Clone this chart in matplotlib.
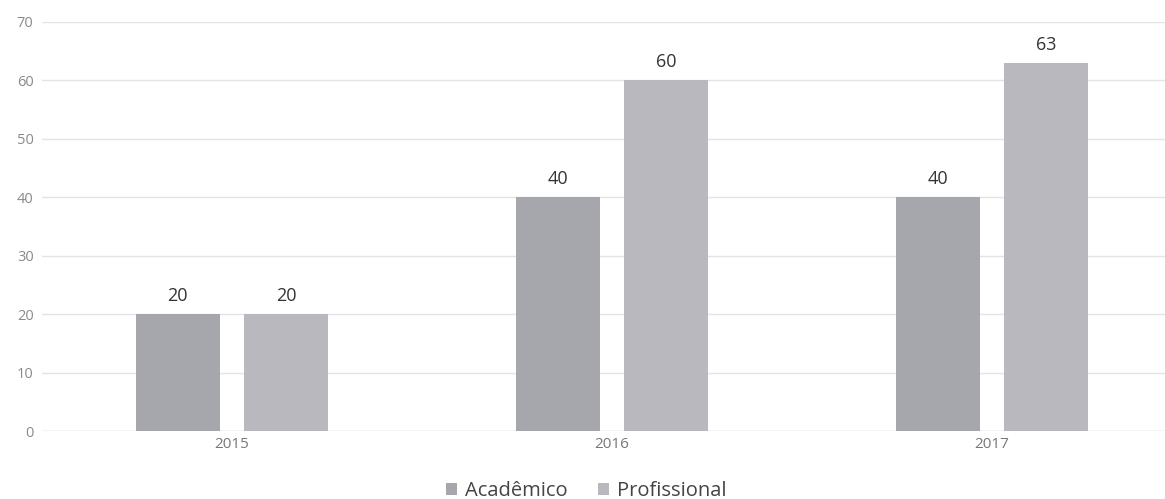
import matplotlib
matplotlib.use("Agg")
import matplotlib.pyplot as plt
import numpy as np

plt.rcParams['font.family'] = ['Open Sans', 'DejaVu Sans']

categories = ["2015", "2016", "2017"]
academico = [20, 40, 40]
profissional = [20, 60, 63]
series_names = ["Acadêmico", "Profissional"]
yticks = [0, 10, 20, 30, 40, 50, 60, 70]

fig = plt.figure(figsize=(11.65, 4.99), dpi=100)
ax = fig.add_axes([0.036, 0.136, 0.964, 0.820])

x = np.arange(len(categories))
w = 0.221
off = 0.143
c1 = "#a6a6ad"
c2 = "#b8b8be"
b1 = ax.bar(x - off, academico, w, color=c1, label=series_names[0], zorder=3)
b2 = ax.bar(x + off, profissional, w, color=c2, label=series_names[1], zorder=3)

for bars, vals in ((b1, academico), (b2, profissional)):
    for b, v in zip(bars, vals):
        ax.text(b.get_x() + b.get_width() / 2, v + 1.6, str(v), ha='center', va='bottom',
                fontsize=13, color="#333333")

ax.set_xlim(-0.5, 2.455)
ax.set_ylim(0, 70)
ax.set_yticks(yticks)
ax.set_yticklabels([str(t) for t in yticks], fontsize=10.5, color="#8a8a8a")
ax.set_xticks(x)
ax.set_xticklabels(categories, fontsize=11, color="#777777")
ax.tick_params(axis='both', length=0, pad=6)
ax.tick_params(axis='x', pad=4)
ax.grid(axis='y', color="#e4e4e4", linewidth=1, zorder=0)
for s in ax.spines.values():
    s.set_visible(False)
ax.axhline(0, color="#dddddd", linewidth=1, zorder=2)

leg = fig.legend(loc='lower center', bbox_to_anchor=(0.503, -0.04), ncol=2, frameon=False,
                 fontsize=14.5, handlelength=0.55, handleheight=0.55, handletextpad=0.4,
                 columnspacing=1.5)
for t in leg.get_texts():
    t.set_color("#444444")

fig.savefig("out.png", dpi=100)
